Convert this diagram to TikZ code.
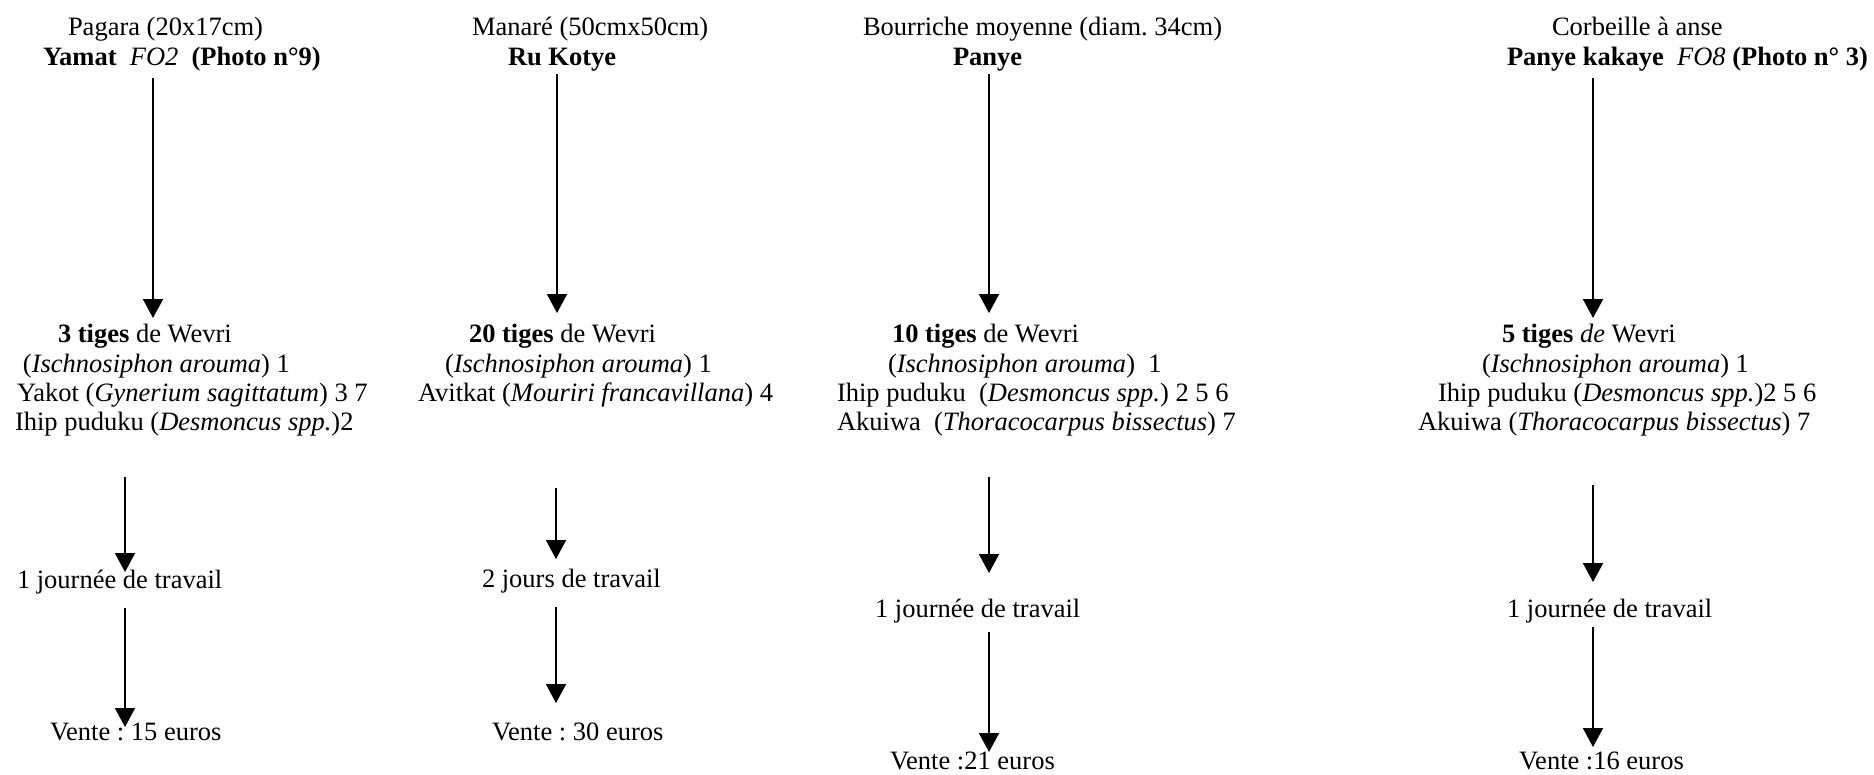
\documentclass[tikz,border=0pt]{standalone}
\usepackage{fontspec}
\setmainfont{Liberation Serif}
\usetikzlibrary{arrows.meta}
\frenchspacing
\tikzset{
  txt/.style={anchor=base west, inner sep=0pt, outer sep=0pt, font=\fontsize{26.5}{29.5}\selectfont},
  arr/.style={line width=2pt, -{Triangle[length=19pt,width=20pt]}}
}
\begin{document}
\frenchspacing
\begin{tikzpicture}[x=1pt,y=-1pt]
\useasboundingbox (0,0) rectangle (1874,774);
% ---------- column 1
\node[txt] (h1a) at (68,35) {Pagara (20x17cm)};
\node[txt] (h1b) at (43,65) {\textbf{Yamat}\ \ \textit{FO2}\ \ \textbf{(Photo n°9)}};
\node[txt] (m1a) at (58,342) {\textbf{3 tiges} de Wevri};
\node[txt] (m1b) at (23,372) {(\textit{Ischnosiphon arouma}) 1};
\node[txt] (m1c) at (17,401) {Yakot (\textit{Gynerium sagittatum}) 3 7};
\node[txt] (m1d) at (15,430) {Ihip puduku (\textit{Desmoncus spp.})2};
\node[txt] (w1) at (17,588) {1 journée de travail};
\node[txt] (v1) at (50,740) {Vente : 15 euros};
% ---------- column 2
\node[txt] (h2a) at (472,35) {Manaré (50cmx50cm)};
\node[txt] (h2b) at (508,65) {\textbf{Ru Kotye}};
\node[txt] (m2a) at (469,342) {\textbf{20 tiges} de Wevri};
\node[txt] (m2b) at (445,372) {(\textit{Ischnosiphon arouma}) 1};
\node[txt] (m2c) at (418,401) {Avitkat (\textit{Mouriri francavillana}) 4};
\node[txt] (w2) at (482,587) {2 jours de travail};
\node[txt] (v2) at (492,740) {Vente : 30 euros};
% ---------- column 3
\node[txt] (h3a) at (863,35) {Bourriche moyenne (diam. 34cm)};
\node[txt] (h3b) at (953,65) {\textbf{Panye}};
\node[txt] (m3a) at (892,342) {\textbf{10 tiges} de Wevri};
\node[txt] (m3b) at (888,372) {(\textit{Ischnosiphon arouma})\ \ 1};
\node[txt] (m3c) at (837,401) {Ihip puduku\ \ (\textit{Desmoncus spp.}) 2 5 6};
\node[txt] (m3d) at (837,430) {Akuiwa\ \ (\textit{Thoracocarpus bissectus}) 7};
\node[txt] (w3) at (875,617) {1 journée de travail};
\node[txt] (v3) at (890,769) {Vente :21 euros};
% ---------- column 4
\node[txt] (h4a) at (1552,35) {Corbeille à anse};
\node[txt] (h4b) at (1507,65) {\textbf{Panye kakaye}\ \ \textit{FO8} \textbf{(Photo n° 3)}};
\node[txt] (m4a) at (1502,342) {\textbf{5 tiges} \textit{de} Wevri};
\node[txt] (m4b) at (1482,372) {(\textit{Ischnosiphon arouma}) 1};
\node[txt] (m4c) at (1438,401) {Ihip puduku (\textit{Desmoncus spp.})2 5 6};
\node[txt] (m4d) at (1418,430) {Akuiwa (\textit{Thoracocarpus bissectus}) 7};
\node[txt] (w4) at (1507,617) {1 journée de travail};
\node[txt] (v4) at (1519,769) {Vente :16 euros};
% ---------- arrow end points
\coordinate (a1s) at (153,78);  \coordinate (a1e) at (153,318);
\coordinate (a2s) at (557,74);  \coordinate (a2e) at (557,313);
\coordinate (a3s) at (989,74);  \coordinate (a3e) at (989,313);
\coordinate (a4s) at (1593,78); \coordinate (a4e) at (1593,318);
\coordinate (b1s) at (125,477); \coordinate (b1e) at (125,572);
\coordinate (b2s) at (556,488); \coordinate (b2e) at (556,559);
\coordinate (b3s) at (989,477); \coordinate (b3e) at (989,573);
\coordinate (b4s) at (1593,485); \coordinate (b4e) at (1593,582);
\coordinate (c1s) at (125,608); \coordinate (c1e) at (125,727);
\coordinate (c2s) at (556,607); \coordinate (c2e) at (556,703);
\coordinate (c3s) at (989,632); \coordinate (c3e) at (989,752);
\coordinate (c4s) at (1593,627); \coordinate (c4e) at (1593,747);
\foreach \c in {1,2,3,4}{
  \draw[arr] (a\c s) -- (a\c e);
  \draw[arr] (b\c s) -- (b\c e);
  \draw[arr] (c\c s) -- (c\c e);
}
\end{tikzpicture}
\end{document}
